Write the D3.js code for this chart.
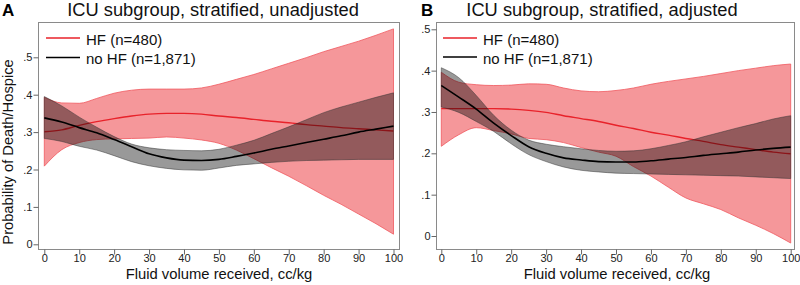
<!DOCTYPE html>
<html><head><meta charset="utf-8">
<script src="https://cdn.jsdelivr.net/npm/d3@7"></script>
<style>body{margin:0;background:#fff}svg{display:block;font-family:"Liberation Sans",Arial,sans-serif}</style>
</head><body>
<svg id="c" width="800" height="285"></svg>
<script>
const xs = [0,5,10,15,20,25,30,35,40,45,50,55,60,65,70,75,80,85,90,95,100];
const xTicks = [0,10,20,30,40,50,60,70,80,90,100];
const yTicks = [0,0.1,0.2,0.3,0.4,0.5];
const yTickLabels = ["0",".1",".2",".3",".4",".5"];
const titles = ["ICU subgroup, stratified, unadjusted","ICU subgroup, stratified, adjusted"];
const panelLetters = ["A","B"];
const legendLabels = ["HF (n=480)","no HF (n=1,871)"];
const xLabel = "Fluid volume received, cc/kg";
const yLabel = "Probability of Death/Hospice";

// Panel A (unadjusted)
const hfEstA = [0.301,0.306,0.318,0.328,0.336,0.343,0.348,0.350,0.350,0.348,0.343,0.339,0.334,0.329,0.325,0.320,0.316,0.312,0.309,0.306,0.303];
const hfUpA  = [0.393,0.378,0.377,0.390,0.404,0.412,0.415,0.415,0.415,0.418,0.428,0.441,0.454,0.469,0.484,0.499,0.515,0.529,0.543,0.559,0.576];
const hfLoA  = [0.209,0.253,0.272,0.280,0.282,0.283,0.284,0.287,0.284,0.279,0.270,0.252,0.229,0.205,0.182,0.157,0.131,0.107,0.081,0.055,0.027];
const noEstA = [0.338,0.327,0.312,0.298,0.280,0.261,0.242,0.231,0.225,0.224,0.227,0.235,0.244,0.254,0.263,0.272,0.281,0.290,0.300,0.308,0.316];
const noUpA  = [0.395,0.370,0.340,0.313,0.288,0.268,0.258,0.253,0.251,0.250,0.254,0.265,0.278,0.296,0.314,0.333,0.352,0.367,0.380,0.393,0.405];
const noLoA  = [0.283,0.275,0.262,0.252,0.237,0.221,0.210,0.203,0.199,0.198,0.204,0.211,0.215,0.219,0.222,0.224,0.225,0.226,0.227,0.227,0.227];

// Panel B (adjusted)
const hfEstB = [0.308,0.308,0.308,0.308,0.307,0.304,0.299,0.291,0.284,0.277,0.268,0.260,0.251,0.244,0.236,0.229,0.221,0.215,0.209,0.203,0.199];
const hfUpB  = [0.396,0.372,0.366,0.364,0.365,0.368,0.367,0.358,0.351,0.349,0.352,0.358,0.367,0.374,0.380,0.386,0.393,0.400,0.406,0.412,0.416];
const hfLoB  = [0.217,0.245,0.262,0.255,0.247,0.236,0.233,0.226,0.214,0.203,0.193,0.168,0.145,0.118,0.092,0.078,0.064,0.044,0.026,0.006,-0.017];
const noEstB = [0.364,0.336,0.307,0.273,0.243,0.216,0.200,0.189,0.184,0.180,0.179,0.179,0.182,0.186,0.190,0.195,0.199,0.203,0.208,0.212,0.215];
const noUpB  = [0.407,0.383,0.340,0.292,0.256,0.232,0.222,0.216,0.211,0.207,0.205,0.206,0.211,0.219,0.228,0.240,0.251,0.262,0.272,0.283,0.291];
const noLoB  = [0.312,0.299,0.277,0.253,0.223,0.197,0.180,0.167,0.159,0.155,0.152,0.151,0.150,0.149,0.148,0.147,0.146,0.145,0.143,0.141,0.139];

const panels = [
  {frame:{l:38,r:399,t:22,b:249}, xr:[44.3,393.5], yr:[244.3,57.3],
   hf:[hfEstA,hfUpA,hfLoA], no:[noEstA,noUpA,noLoA], letterX:2, titleX:213, xLabX:219,
   legX:[46,80,86], legY:[38,57.5]},
  {frame:{l:436,r:794,t:22,b:249}, xr:[441.3,790.7], yr:[236,29.3],
   hf:[hfEstB,hfUpB,hfLoB], no:[noEstB,noUpB,noLoB], letterX:421, titleX:602, xLabX:617,
   legX:[443,477,483], legY:[38,57]}
];

const svg = d3.select("#c");
const RED = "#e8222a";

panels.forEach((p,i)=>{
  const g = svg.append("g");
  const x = d3.scaleLinear().domain([0,100]).range(p.xr);
  const y = d3.scaleLinear().domain([0,0.5]).range(p.yr);
  const area = (up,lo)=>d3.area().x((d,k)=>x(xs[k])).y0((d,k)=>y(lo[k])).y1((d,k)=>y(up[k])).curve(d3.curveMonotoneX)(xs);
  const line = (v)=>d3.line().x((d,k)=>x(xs[k])).y((d,k)=>y(v[k])).curve(d3.curveMonotoneX)(xs);

  // red band
  g.append("path").attr("d",area(p.hf[1],p.hf[2])).attr("fill","#f5979a").attr("stroke","#f0585e").attr("stroke-width",0.8);
  g.append("path").attr("d",line(p.hf[0])).attr("fill","none").attr("stroke",RED).attr("stroke-width",1.4);
  // black band (translucent)
  g.append("path").attr("d",area(p.no[1],p.no[2])).attr("fill","#000").attr("fill-opacity",0.4).attr("stroke","#333").attr("stroke-width",0.7).attr("stroke-opacity",0.7);
  g.append("path").attr("d",line(p.no[0])).attr("fill","none").attr("stroke","#000").attr("stroke-width",1.6);

  // frame
  const f = p.frame;
  g.append("rect").attr("x",f.l+0.5).attr("y",f.t+0.5).attr("width",f.r-f.l).attr("height",f.b-f.t)
    .attr("fill","none").attr("stroke","#8a8a8a").attr("stroke-width",1);

  // axes
  const ya = g.append("g").attr("transform",`translate(${f.l+0.5},0)`)
    .call(d3.axisLeft(y).tickValues(yTicks).tickSize(5).tickPadding(1).tickFormat((d,k)=>yTickLabels[k]));
  const xa = g.append("g").attr("transform",`translate(0,${f.b+0.5})`)
    .call(d3.axisBottom(x).tickValues(xTicks).tickSize(5).tickPadding(0));
  [ya,xa].forEach(a=>{
    a.select(".domain").remove();
    a.selectAll("line").attr("stroke","#666");
    a.selectAll("text").attr("font-size","11px").attr("fill","#222").attr("font-family","Liberation Sans, Arial, sans-serif");
  });

  // legend
  [[RED,legendLabels[0]],["#000",legendLabels[1]]].forEach((e,k)=>{
    g.append("line").attr("x1",p.legX[0]).attr("x2",p.legX[1]).attr("y1",p.legY[k]).attr("y2",p.legY[k])
      .attr("stroke",e[0]).attr("stroke-width",1.4);
    g.append("text").attr("x",p.legX[2]).attr("y",p.legY[k]+6.5).attr("font-size","15px").attr("fill","#111").text(e[1]);
  });

  // titles
  g.append("text").attr("x",p.letterX).attr("y",15.5).attr("font-size","17px").attr("font-weight","bold").text(panelLetters[i]);
  g.append("text").attr("x",p.titleX).attr("y",15.5).attr("font-size","18.3px").attr("text-anchor","middle").attr("fill","#111").text(titles[i]);
  g.append("text").attr("x",p.xLabX).attr("y",278.5).attr("font-size","14.8px").attr("text-anchor","middle").attr("fill","#111").text(xLabel);
});

svg.append("text").attr("transform","translate(13,152) rotate(-90)").attr("font-size","14.7px")
  .attr("text-anchor","middle").attr("fill","#111").text(yLabel);
</script>
</body></html>
